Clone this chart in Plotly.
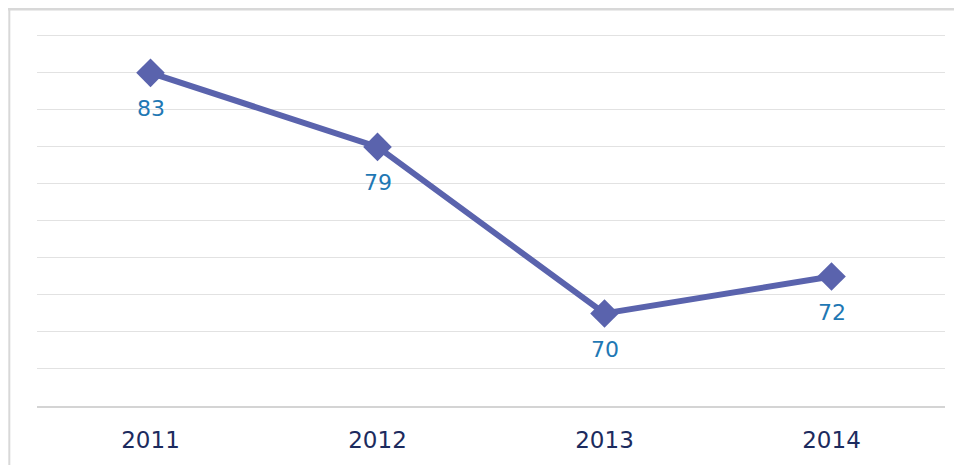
import plotly.graph_objects as go

years = ["2011", "2012", "2013", "2014"]
values = [83, 79, 70, 72]
labels = ["83", "79", "70", "72"]

FONT = "DejaVu Sans, Verdana, sans-serif"

fig = go.Figure()
fig.add_trace(go.Scatter(
    x=years, y=values, mode="lines+markers",
    line=dict(color="#5a63ad", width=6),
    marker=dict(symbol="diamond", size=22, color="#5a63ad"),
    cliponaxis=False, hoverinfo="skip",
))

annotations = [
    dict(x=i, y=y, text=t, showarrow=False, yshift=-36, xref="x", yref="y",
         font=dict(family=FONT, size=22, color="#1f78b4"))
    for i, (y, t) in enumerate(zip(values, labels))
]

fig.update_layout(
    width=954, height=457,
    margin=dict(l=29, r=17, t=26, b=59),
    paper_bgcolor="white", plot_bgcolor="white",
    showlegend=False,
    annotations=annotations,
    xaxis=dict(type="category", range=[-0.5, 3.5], showgrid=False,
               showline=True, linecolor="#d4d4d4", linewidth=2,
               ticks="", tickfont=dict(family=FONT, size=23, color="#1c2b5e"),
               ticklabelstandoff=12),
    yaxis=dict(range=[65, 85.1], tick0=65, dtick=2, showticklabels=False,
               showgrid=True, gridcolor="#e2e2e2", gridwidth=1, zeroline=False,
               showline=False),
    shapes=[
        dict(type="line", xref="paper", yref="paper", x0=-0.033, x1=1.03, y0=1.067, y1=1.067,
             line=dict(color="#d8d8d8", width=3)),
        dict(type="line", xref="paper", yref="paper", x0=-0.0305, x1=-0.0305, y0=-0.2, y1=1.07,
             line=dict(color="#d8d8d8", width=2)),
    ],
)

fig.write_html("out.html")
